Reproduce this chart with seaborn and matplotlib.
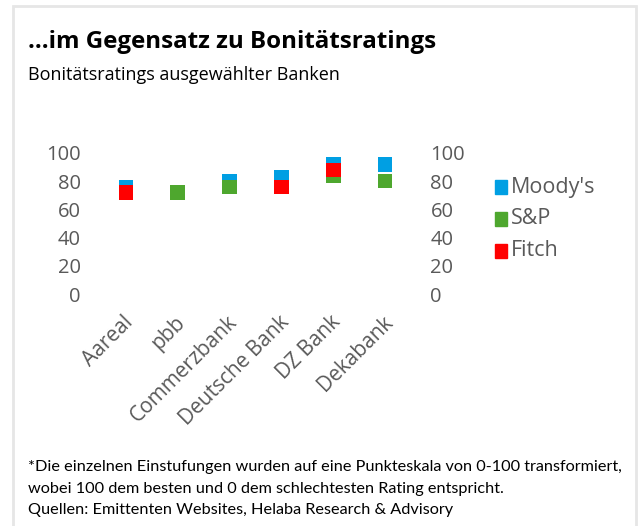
import numpy as np
import pandas as pd
import seaborn as sns
import matplotlib.pyplot as plt
from matplotlib.patches import Rectangle
from matplotlib.transforms import ScaledTranslation

banks = ["Aareal", "pbb", "Commerzbank", "Deutsche Bank", "DZ Bank", "Dekabank"]
moodys = [76, np.nan, 80, 83, 92, 92]
sp = [np.nan, 72, 76, np.nan, 84, 80]
fitch = [72, np.nan, np.nan, 76, 88, np.nan]
agencies = ["Moody's", "S&P", "Fitch"]
colors = ["#009FE3", "#4EA72E", "#FF0000"]

df = pd.DataFrame({"Bank": banks * 3,
                   "Agentur": np.repeat(agencies, len(banks)),
                   "Punkte": moodys + sp + fitch})

sns.set_theme(style="white")
plt.rcParams["font.family"] = ["Open Sans", "DejaVu Sans"]

fig = plt.figure(figsize=(6.39, 5.26), dpi=100)
ax = fig.add_axes([100 / 639, (526 - 294) / 526, 311 / 639, 141 / 526])

sns.scatterplot(data=df, x="Bank", y="Punkte", hue="Agentur", palette=colors,
                marker="s", s=110, linewidth=0, ax=ax, legend=False, clip_on=False)

ax.set_xlim(-0.5, len(banks) - 0.5)
ax.set_ylim(0, 100)
ax.set_yticks(range(0, 101, 20))
ax.set_xlabel("")
ax.set_ylabel("")
for s in ax.spines.values():
    s.set_visible(False)
grey = "#595959"
ax.tick_params(axis="y", left=False, right=False, length=0, labelleft=True, labelright=True,
               labelsize=14.5, labelcolor=grey, pad=14)
ax.tick_params(axis="x", bottom=False, length=0, labelsize=15, labelcolor=grey, pad=2)
shift = ScaledTranslation(-0.03, -0.15, fig.dpi_scale_trans)
for lab in ax.get_xticklabels():
    lab.set_rotation(45)
    lab.set_ha("right")
    lab.set_rotation_mode("anchor")
    lab.set_transform(lab.get_transform() + shift)

# legend
for i, (a, c) in enumerate(zip(agencies, colors)):
    y = 1 - (187 + 32 * i) / 526
    fig.patches.append(Rectangle((495 / 639, y - 6.5 / 526), 12.5 / 639, 13.5 / 526,
                                 transform=fig.transFigure, color=c, figure=fig))
    fig.text(511 / 639, y, a, fontsize=15.5, color=grey, va="center", ha="left")

fig.text(28 / 639, 1 - 42 / 526, "…im Gegensatz zu Bonitätsratings", fontsize=17.4,
         fontweight="bold", color="black", va="center", ha="left")
fig.text(28 / 639, 1 - 75 / 526, "Bonitätsratings ausgewählter Banken", fontsize=13,
         color="black", va="center", ha="left")

notes = ["*Die einzelnen Einstufungen wurden auf eine Punkteskala von 0-100 transformiert,",
         "wobei 100 dem besten und 0 dem schlechtesten Rating entspricht.",
         "Quellen: Emittenten Websites, Helaba Research & Advisory"]
for i, t in enumerate(notes):
    fig.text(28 / 639, 1 - (467 + 21.5 * i) / 526, t, fontsize=11.7, color="black",
             va="center", ha="left", family=["Lato", "DejaVu Sans"])

fig.patches.append(Rectangle((13 / 639, -0.05), 623 / 639, 1.05 - 6 / 526, fill=False,
                             edgecolor="#e6e6e6", lw=2, transform=fig.transFigure, figure=fig))

fig.savefig("out.png", dpi=100)
